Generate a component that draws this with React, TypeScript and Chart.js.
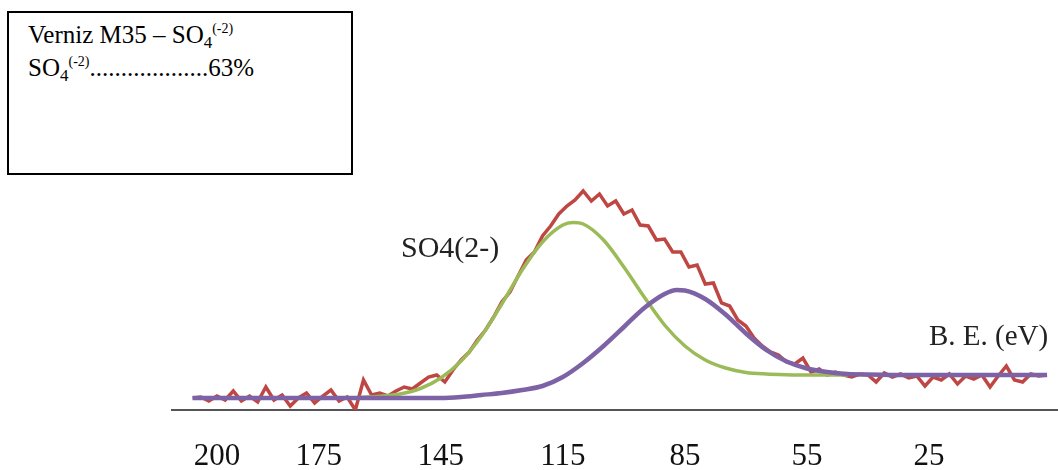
import { useEffect, useRef } from 'react';
import { Chart, registerables } from 'chart.js';

Chart.register(...registerables);

// Binding energy (eV) of the measured spectrum
const energies = [
  206, 204, 202, 200, 198, 196, 194, 192, 190, 188,
  186, 184, 182, 180, 178, 176, 174, 172, 170, 168,
  166, 164, 162, 160, 158, 156, 154, 152, 150, 148,
  146, 144, 142, 140, 138, 136, 134, 132, 130, 128,
  126, 124, 122, 120, 118, 116, 114, 112, 110, 108,
  106, 104, 102, 100, 98, 96, 94, 92, 90, 88,
  86, 84, 82, 80, 78, 76, 74, 72, 70, 68,
  66, 64, 62, 60, 58, 56, 54, 52, 50, 48,
  46, 44, 42, 40, 38, 36, 34, 32, 30, 28,
  26, 24, 22, 20, 18, 16, 14, 12, 10, 8,
  6, 4, 2, 0, -2, -4,
];

// Measured intensity (arbitrary units)
const totalCounts = [
  12, 13, 9, 14, 10, 19, 9, 14, 8, 23,
  10, 15, 4, 12, 17, 7, 14, 20, 9, 13,
  0, 30, 15, 17, 14, 19, 23, 21, 27, 33,
  35, 28, 40, 50, 58, 70, 80, 93, 108, 118,
  134, 150, 158, 174, 184, 196, 204, 210, 219, 209,
  216, 204, 209, 196, 200, 185, 184, 170, 171, 158,
  158, 143, 145, 126, 127, 107, 104, 90, 84, 72,
  64, 58, 55, 48, 46, 52, 38, 41, 35, 38,
  35, 33, 36, 35, 28, 37, 33, 36, 32, 34,
  24, 33, 30, 36, 26, 34, 31, 35, 23, 34,
  44, 30, 28, 36, 34, 35,
];

// SO4(2-) fitted component
const so4Energies = [165, 160, 155, 150, 145, 140, 135, 130, 125, 120, 115, 112.5, 110, 105, 100, 95, 90, 85, 80, 75, 70, 65, 60, 55, 50, 45];
const so4Fit = [12.6, 13.7, 16, 21.5, 32, 49, 74, 106, 140, 168, 185, 187.5, 186, 170, 143, 113, 85, 64, 50, 42, 37.6, 36, 35.3, 35, 35, 35];

// Second fitted component
const secondEnergies = [206, 200, 190, 180, 170, 160, 150, 145, 140, 135, 130, 125, 120, 115, 110, 105, 100, 95, 90, 87, 85, 80, 75, 70, 65, 60, 55, 50, 45, 40, 30, 20, 10, 0, -4];
const secondFit = [12, 12, 12, 12, 12, 12, 12, 12, 13, 15, 17, 20, 24, 33, 47, 64, 83, 102, 116, 120, 119.5, 111, 95.5, 76.5, 60, 48.5, 41.5, 38, 36, 35.5, 35, 35, 35, 35, 35];

const tickValues = [200, 175, 145, 115, 85, 55, 25];

const FONT = "'Liberation Serif', 'Times New Roman', serif";

function toPoints(xs: number[], ys: number[]) {
  return xs.map((x, i) => ({ x, y: ys[i] }));
}

export default function App() {
  const canvasRef = useRef<HTMLCanvasElement | null>(null);

  useEffect(() => {
    if (!canvasRef.current) return;
    const chart = new Chart(canvasRef.current, {
      type: 'line',
      data: {
        datasets: [
          {
            label: 'Component 2',
            data: toPoints(secondEnergies, secondFit),
            borderColor: '#7E62A6',
            borderWidth: 4.5,
            pointRadius: 0,
            cubicInterpolationMode: 'monotone',
            fill: false,
          },
          {
            label: 'SO4(2-)',
            data: toPoints(so4Energies, so4Fit),
            borderColor: '#9BBB59',
            borderWidth: 3.5,
            pointRadius: 0,
            cubicInterpolationMode: 'monotone',
            fill: false,
          },
          {
            label: 'Total',
            data: toPoints(energies, totalCounts),
            borderColor: '#BE4744',
            borderWidth: 3.5,
            pointRadius: 0,
            tension: 0,
            fill: false,
          },
        ],
      },
      options: {
        animation: false,
        responsive: false,
        maintainAspectRatio: false,
        layout: { padding: { left: 172, right: 0, top: 0, bottom: 0 } },
        plugins: {
          legend: { display: false },
          tooltip: { enabled: false },
        },
        scales: {
          x: {
            type: 'linear',
            reverse: true,
            min: -6.7,
            max: 211.06,
            grid: { display: false, drawTicks: false },
            border: { display: true, color: '#555555', width: 2 },
            ticks: {
              font: { family: FONT, size: 31 },
              color: '#111111',
              padding: 28,
              autoSkip: false,
              maxRotation: 0,
            },
            afterBuildTicks: (scale: any) => {
              scale.ticks = tickValues.map((v) => ({ value: v }));
            },
            afterFit: (scale: any) => {
              scale.height = 60;
            },
          },
          y: {
            display: false,
            min: 0,
            max: 410,
          },
        },
      },
    });
    return () => chart.destroy();
  }, []);

  return (
    <div style={{ position: 'absolute', left: 0, top: 0, width: 1058, height: 470, background: '#ffffff', overflow: 'hidden' }}>
      <canvas ref={canvasRef} width={1058} height={470} style={{ display: 'block', width: 1058, height: 470 }} />
      <div
        style={{
          position: 'absolute', left: 7, top: 11, width: 346, height: 164,
          border: '2px solid #000', boxSizing: 'border-box', background: '#fff',
        }}
      />
      <div
        style={{
          position: 'absolute', left: 28, top: 20, fontFamily: FONT, fontSize: 25,
          lineHeight: '29px', color: '#000', whiteSpace: 'nowrap',
        }}
      >
        <div>
          Verniz M35 – SO
          <span style={{ fontSize: 17, position: 'relative', top: 5 }}>4</span>
          <span style={{ fontSize: 14, position: 'relative', top: -10 }}>(-2)</span>
        </div>
        <div>
          SO
          <span style={{ fontSize: 17, position: 'relative', top: 5 }}>4</span>
          <span style={{ fontSize: 14, position: 'relative', top: -10 }}>(-2)</span>
          ...................63%
        </div>
      </div>
      <div
        style={{
          position: 'absolute', left: 401, top: 232, fontFamily: FONT, fontSize: 30,
          lineHeight: '30px', color: '#222', whiteSpace: 'nowrap',
        }}
      >
        SO4(2-)
      </div>
      <div
        style={{
          position: 'absolute', left: 929, top: 321, fontFamily: FONT, fontSize: 29,
          lineHeight: '29px', color: '#222', whiteSpace: 'nowrap',
        }}
      >
        B. E. (eV)
      </div>
    </div>
  );
}
